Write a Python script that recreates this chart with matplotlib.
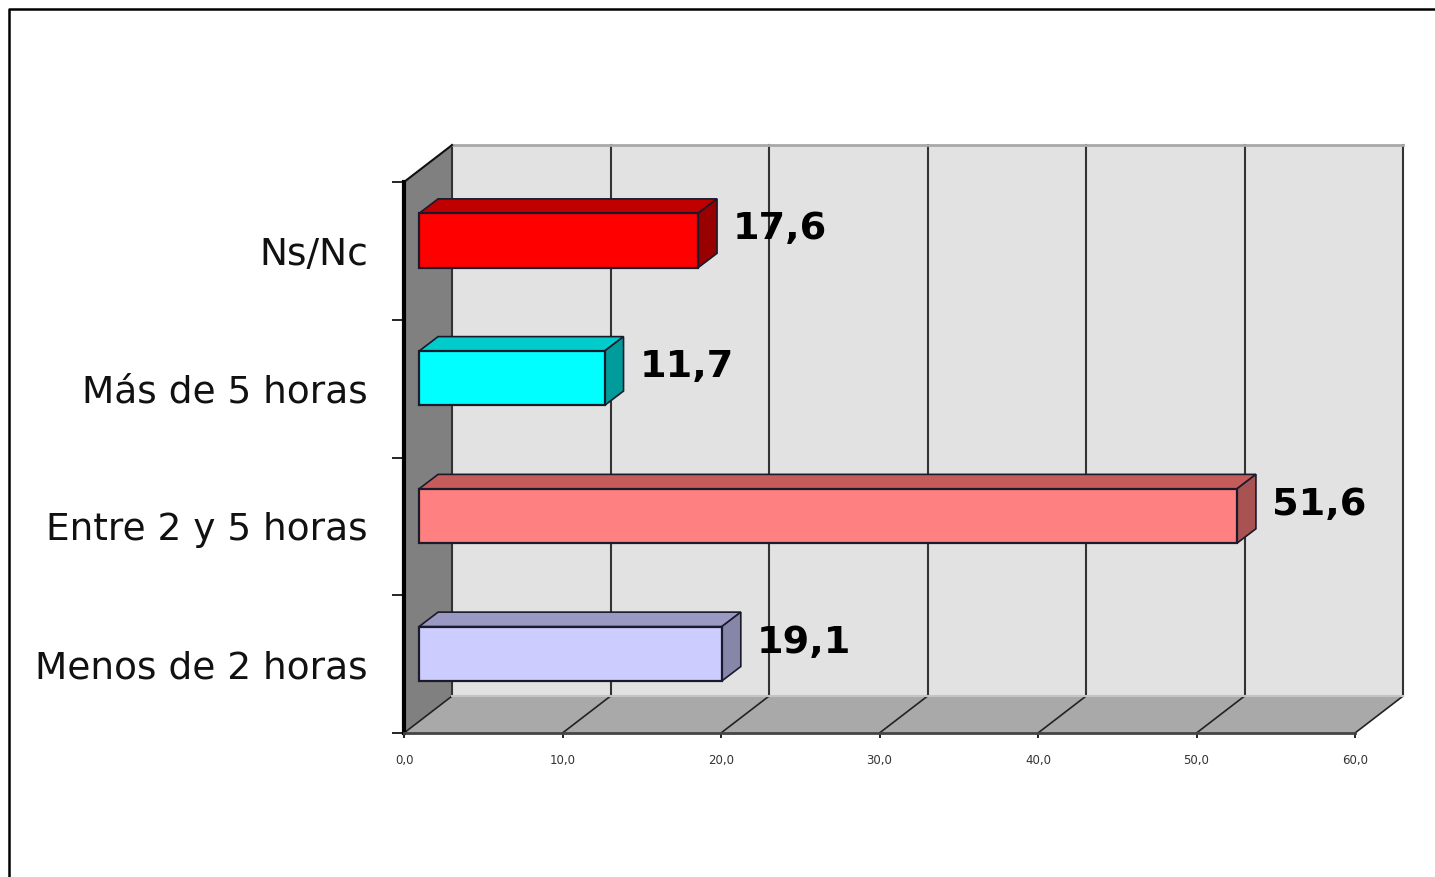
import matplotlib
matplotlib.use("Agg")
import matplotlib.pyplot as plt
from matplotlib.patches import Polygon
from matplotlib.transforms import Affine2D

categories = ["Menos de 2 horas", "Entre 2 y 5 horas", "Más de 5 horas", "Ns/Nc"]
values = [19.1, 51.6, 11.7, 17.6]
value_labels = ["19,1", "51,6", "11,7", "17,6"]
x_ticks = [0, 10, 20, 30, 40, 50, 60]
x_tick_labels = ["0,0", "10,0", "20,0", "30,0", "40,0", "50,0", "60,0"]

face_colors = ["#ccccff", "#ff8080", "#00ffff", "#ff0000"]
top_colors = ["#9999c4", "#c45c5c", "#00cccc", "#c00000"]
side_colors = ["#8686a8", "#a85252", "#009c9c", "#990000"]

W, H = 1435, 877

# depth of the fake 3d box, in data units
DX = 3.03
DY = 0.268
# bar box depth and where it sits inside the floor
BAR_DX = 1.2
BAR_DY = 0.105
BAR_X0 = 0.95
BAR_Y0 = 0.075
BAR_H = 0.395

fig = plt.figure(figsize=(W / 100, H / 100), dpi=100)
fig.patch.set_facecolor("white")
ax = fig.add_axes([404 / W, 1 - 733 / H, (1355 - 404) / W, (733 - 182) / H])
ax.set_xlim(0, 60)
ax.set_ylim(-0.5, 3.5)
ax.patch.set_visible(False)
for s in ax.spines.values():
    s.set_visible(False)


def poly(pts, fc, ec="none", lw=0.0, z=1):
    ax.add_patch(Polygon(pts, closed=True, fc=fc, ec=ec, lw=lw, zorder=z, clip_on=False))


y0, y1 = -0.5, 3.5
# walls and floor
poly([(DX, y0 + DY), (60 + DX, y0 + DY), (60 + DX, y1 + DY), (DX, y1 + DY)], "#e2e2e2", z=1)
poly([(0, y0), (DX, y0 + DY), (DX, y1 + DY), (0, y1)], "#808080", z=1)
poly([(0, y0), (60, y0), (60 + DX, y0 + DY), (DX, y0 + DY)], "#a9a9a9", z=1)

# grid
for t in x_ticks:
    ax.plot([t + DX, t + DX], [y0 + DY, y1 + DY], color="#333333", lw=1.5, zorder=2, clip_on=False)
    ax.plot([t, t + DX], [y0, y0 + DY], color="#222222", lw=1.2, zorder=2, clip_on=False)
ax.plot([DX, 60 + DX], [y1 + DY, y1 + DY], color="#a8a8a8", lw=2, zorder=2, clip_on=False)
ax.plot([DX, 60 + DX], [y0 + DY, y0 + DY], color="#c4c4c4", lw=1.5, zorder=2, clip_on=False)
ax.plot([0, DX], [y1, y1 + DY], color="#111111", lw=1.5, zorder=3, clip_on=False)

# axis lines
ax.plot([0, 0], [y0, y1], color="black", lw=3, zorder=4, clip_on=False)
ax.plot([0, 60], [y0, y0], color="#444444", lw=2, zorder=4, clip_on=False)

ax.set_xticks(x_ticks)
ax.set_xticklabels(x_tick_labels, fontsize=8.5, color="#333333")
ax.tick_params(axis="x", length=3.5, width=1.2, pad=11.5, color="black")
ax.set_yticks([-0.5, 0.5, 1.5, 2.5, 3.5])
ax.set_yticklabels([])
ax.tick_params(axis="y", which="major", length=9, width=1.2, color="black")
ax.set_yticks([0, 1, 2, 3], minor=True)
ax.set_yticklabels(categories, minor=True, fontsize=27, color="#111111", va="center")
ax.tick_params(axis="y", which="minor", length=0, pad=26)
for lab in ax.get_yticklabels(minor=True):
    lab.set_transform(lab.get_transform() + Affine2D().translate(0, -4))

# bars
for i, v in enumerate(values):
    x0, x1 = BAR_X0, BAR_X0 + v
    b, t = i - BAR_H / 2 + BAR_Y0, i + BAR_H / 2 + BAR_Y0
    edge = "#1a1a2a"
    poly([(x0, t), (x1, t), (x1 + BAR_DX, t + BAR_DY), (x0 + BAR_DX, t + BAR_DY)], top_colors[i], edge, 1.2, 5)
    poly([(x1, b), (x1 + BAR_DX, b + BAR_DY), (x1 + BAR_DX, t + BAR_DY), (x1, t)], side_colors[i], edge, 1.2, 5)
    poly([(x0, b), (x1, b), (x1, t), (x0, t)], face_colors[i], edge, 1.6, 6)
    ax.annotate(value_labels[i], (x1 + BAR_DX, i + BAR_Y0 + BAR_DY / 2), xytext=(16, 4),
                textcoords="offset pixels", ha="left", va="center", fontsize=27.5,
                fontweight="bold", color="black", zorder=7)

# picture frame: only the left and top edges show in the crop
fig.add_artist(plt.Line2D([9 / W, 9 / W, 1], [0, 1 - 9 / H, 1 - 9 / H], transform=fig.transFigure,
                          color="black", lw=1.8))

fig.savefig("out.png", dpi=100)
